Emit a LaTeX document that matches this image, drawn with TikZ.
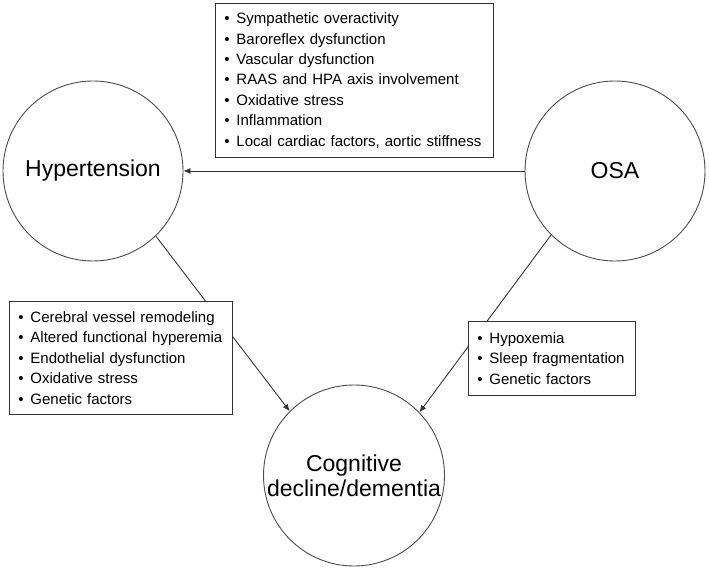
\documentclass[tikz,border=0pt]{standalone}
\usepackage{fontspec}
\setmainfont{Liberation Sans}
\usetikzlibrary{arrows.meta}
\newcommand{\bitem}[1]{\makebox[12pt][l]{•}#1}
\tikzset{
  bigcirc/.style={circle, draw=black!70, line width=0.9pt, minimum size=180pt, inner sep=0pt, align=center, font=\fontsize{23}{25}\selectfont},
  listbox/.style={draw=black!80, line width=0.9pt, fill=white, anchor=north west, align=left, inner xsep=9pt, inner ysep=0pt, font=\fontsize{15}{20.4}\selectfont},
  conn/.style={draw=black!80, line width=0.9pt, -{Latex[length=7pt,width=6pt]}}
}
\begin{document}
\begin{tikzpicture}[x=1pt,y=-1pt]
\useasboundingbox[fill=white] (0,0) rectangle (709,569);
\node[bigcirc] (hyp) at (93,171) {Hypertension};
\node[bigcirc] (osa) at (615,171) {OSA};
\node[bigcirc, minimum size=181pt] (cog) at (354,475.5) {Cognitive\\decline/dementia};
\draw[conn] (osa.west) -- (hyp.east);
\draw[conn] (hyp.-46) -- (cog.135.5);
\draw[conn] (osa.225.4) -- (cog.44.6);
\node[listbox, text width=260pt, minimum height=154pt] (top) at (215,3) {%
\bitem{Sympathetic overactivity}\\
\bitem{Baroreflex dysfunction}\\
\bitem{Vascular dysfunction}\\
\bitem{RAAS and HPA axis involvement}\\
\bitem{Oxidative stress}\\
\bitem{Inflammation}\\
\bitem{Local cardiac factors, aortic stiffness}};
\node[listbox, text width=205pt, minimum height=113pt] (left) at (9,301) {%
\bitem{Cerebral vessel remodeling}\\
\bitem{Altered functional hyperemia}\\
\bitem{Endothelial dysfunction}\\
\bitem{Oxidative stress}\\
\bitem{Genetic factors}};
\node[listbox, text width=149pt, minimum height=74pt] (right) at (468,321) {%
\bitem{Hypoxemia}\\
\bitem{Sleep fragmentation}\\
\bitem{Genetic factors}};
\end{tikzpicture}
\end{document}
